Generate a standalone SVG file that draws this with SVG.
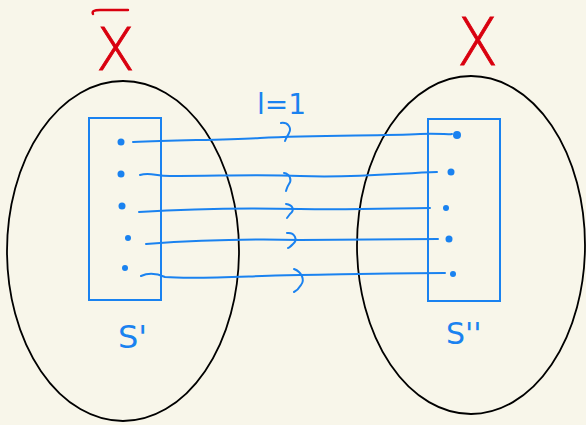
<svg xmlns="http://www.w3.org/2000/svg" width="586" height="425" viewBox="0 0 586 425">
<style>
.bg{fill:#f8f6ea}
.set{fill:none;stroke:#000;stroke-width:1.8}
.box{fill:none;stroke:#1a82f0;stroke-width:2}
.ln{fill:none;stroke:#1a82f0;stroke-width:2;stroke-linecap:round;stroke-linejoin:round}
.dot{fill:#1a82f0}
.bt{fill:#1a82f0;font-family:"DejaVu Sans",sans-serif;font-weight:normal}
.rd{fill:none;stroke:#d9000f;stroke-width:2.4;stroke-linecap:round}
.rt{fill:#d9000f;stroke:#d9000f;stroke-width:0.8;font-family:"DejaVu Sans",sans-serif;font-weight:200}
</style>
<rect class="bg" x="0" y="0" width="586" height="425"/>
<g id="set-left">
<ellipse class="set" cx="123" cy="251" rx="116" ry="170"/>
<rect class="box" x="89" y="118" width="72" height="182"/>
<circle class="dot" cx="121" cy="142" r="3.5"/>
<circle class="dot" cx="121" cy="174" r="3.5"/>
<circle class="dot" cx="122" cy="206" r="3.5"/>
<circle class="dot" cx="128" cy="238" r="3"/>
<circle class="dot" cx="125" cy="268" r="3"/>
<text class="bt" x="118" y="348" font-size="32">S'</text>
</g>
<g id="set-right">
<ellipse class="set" cx="471" cy="245" rx="114" ry="169"/>
<rect class="box" x="428" y="119" width="72" height="182"/>
<circle class="dot" cx="457" cy="135" r="4"/>
<circle class="dot" cx="451" cy="172" r="3.5"/>
<circle class="dot" cx="446" cy="208" r="3"/>
<circle class="dot" cx="449" cy="239" r="3.5"/>
<circle class="dot" cx="453" cy="274" r="3"/>
<text class="bt" x="446" y="344" font-size="30">S''</text>
</g>
<g id="label-X-bar">
<path class="rd" d="M93,14 Q91,10 100,10 L128,10"/>
<text class="rt" transform="translate(96,70) scale(1.05,1.1)" x="0" y="0" font-size="54">X</text>
</g>
<g id="label-X">
<text class="rt" transform="translate(457,65) scale(1,1.1)" x="0" y="0" font-size="60">X</text>
</g>
<g id="label-l">
<text class="bt" x="257" y="114" font-size="28">l=1</text>
</g>
<g id="connectors">
<path class="ln" d="M133,142 C180,140 220,140 260,138 C320,135 380,136 420,134 C440,133 448,135 452,134"/>
<path class="ln" d="M140,175 C150,172 155,176 170,176 C220,176 260,174 300,176 C360,178 400,173 437,172"/>
<path class="ln" d="M139,212 C200,208 260,208 300,209 C360,210 400,208 430,208"/>
<path class="ln" d="M146,244 C200,240 260,239 300,240 C360,240 400,239 438,239"/>
<path class="ln" d="M141,276 C150,272 158,274 165,277 C200,280 260,275 300,275 C360,274 400,273 445,273"/>
<path class="ln" d="M281,123 C288,122 292,128 289,133 C287,137 286,138 285,141"/>
<path class="ln" d="M284,173 C290,174 292,180 289,184 C287,187 287,188 286,191"/>
<path class="ln" d="M286,204 C293,205 295,210 290,214 L287,218"/>
<path class="ln" d="M287,233 C295,232 298,240 293,244 C290,247 289,248 288,248"/>
<path class="ln" d="M294,269 C302,272 305,280 301,285 C298,290 296,291 294,292"/>
</g>
</svg>
